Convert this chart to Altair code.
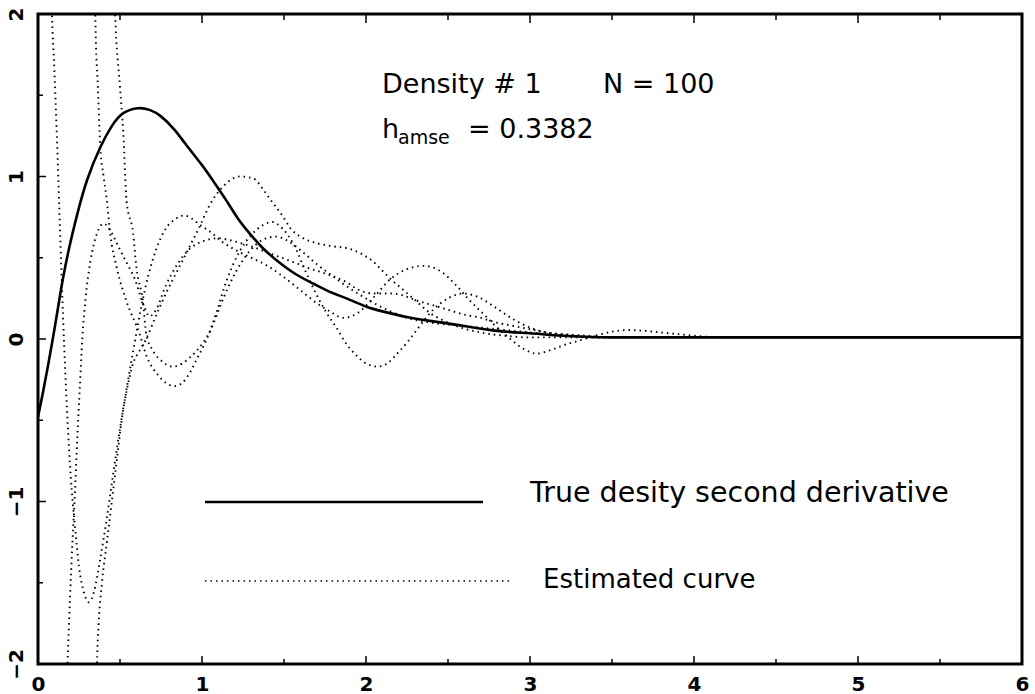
import altair as alt
import pandas as pd

# ---------------- data ----------------
true_x = [0.0, 0.03, 0.06, 0.09, 0.12, 0.15, 0.19, 0.24, 0.30, 0.38, 0.45, 0.52, 0.61,
          0.68, 0.75, 0.83, 0.90, 1.0, 1.07, 1.15, 1.22, 1.29, 1.37, 1.46, 1.57, 1.68,
          1.78, 1.88, 2.0, 2.1, 2.25, 2.4, 2.6, 2.8, 3.0, 3.2, 3.5, 4.0, 5.0, 6.0]
true_y = [-0.48, -0.33, -0.17, 0.0, 0.18, 0.36, 0.56, 0.77, 0.98, 1.18, 1.31, 1.39, 1.42,
          1.41, 1.37, 1.29, 1.20, 1.07, 0.97, 0.85, 0.74, 0.65, 0.56, 0.48, 0.40, 0.34,
          0.29, 0.25, 0.20, 0.17, 0.135, 0.11, 0.08, 0.05, 0.035, 0.02, 0.01, 0.01, 0.01, 0.01]

est1_x = [0.07, 0.085, 0.10, 0.115, 0.13, 0.145, 0.16, 0.18, 0.20, 0.225, 0.25, 0.28, 0.31,
          0.34, 0.38, 0.42, 0.46, 0.50, 0.54, 0.58, 0.62, 0.66, 0.71, 0.78, 0.85, 0.92,
          0.98, 1.05, 1.13, 1.23, 1.31, 1.38, 1.43, 1.49, 1.54, 1.60, 1.70, 1.80, 1.88,
          1.98, 2.04, 2.10, 2.16, 2.23, 2.31, 2.39, 2.48, 2.58, 2.70, 2.85, 3.0, 6.0]
est1_y = [2.6, 2.0, 1.65, 1.25, 0.8, 0.35, -0.05, -0.5, -0.85, -1.15, -1.4, -1.56, -1.62,
          -1.56, -1.35, -1.1, -0.82, -0.55, -0.32, -0.15, -0.07, 0.0, 0.12, 0.28, 0.42, 0.56,
          0.68, 0.83, 0.94, 1.0, 0.99, 0.91, 0.84, 0.76, 0.68, 0.63, 0.59, 0.57, 0.56,
          0.52, 0.48, 0.42, 0.36, 0.30, 0.23, 0.16, 0.11, 0.07, 0.04, 0.02, 0.01, 0.01]

est2_x = [0.17, 0.18, 0.195, 0.21, 0.225, 0.24, 0.255, 0.27, 0.29, 0.32, 0.36, 0.40, 0.44,
          0.49, 0.54, 0.59, 0.64, 0.68, 0.72, 0.78, 0.85, 0.92, 1.0, 1.1, 1.2, 1.3, 1.43,
          1.54, 1.64, 1.76, 1.88, 1.96, 2.05, 2.15, 2.22, 2.30, 2.40, 2.50, 2.60, 2.70,
          2.80, 2.90, 3.00, 3.10, 3.20, 3.35, 3.5, 6.0]
est2_y = [-2.3, -2.0, -1.6, -1.25, -0.95, -0.6, -0.3, 0.0, 0.25, 0.48, 0.65, 0.71, 0.67,
          0.57, 0.47, 0.37, 0.22, 0.14, 0.18, 0.33, 0.46, 0.55, 0.60, 0.62, 0.60, 0.57, 0.52,
          0.48, 0.44, 0.40, 0.35, 0.30, 0.28, 0.28, 0.27, 0.24, 0.21, 0.18, 0.15, 0.13,
          0.10, 0.08, 0.06, 0.04, 0.03, 0.02, 0.01, 0.01]

est3_x = [0.355, 0.36, 0.37, 0.39, 0.42, 0.45, 0.48, 0.51, 0.55, 0.59, 0.63, 0.67, 0.72,
          0.78, 0.84, 0.89, 0.94, 0.99, 1.05, 1.12, 1.2, 1.3, 1.4, 1.5, 1.6, 1.7, 1.78,
          1.86, 1.95, 2.05, 2.15, 2.25, 2.35, 2.45, 2.55, 2.63, 2.72, 2.8, 2.88, 2.96,
          3.04, 3.12, 3.2, 3.3, 3.4, 3.5, 3.6, 3.7, 3.8, 3.9, 4.0, 4.2, 6.0]
est3_y = [-2.3, -2.0, -1.75, -1.5, -1.25, -1.0, -0.75, -0.5, -0.25, -0.02, 0.2, 0.38, 0.55,
          0.68, 0.74, 0.76, 0.74, 0.70, 0.66, 0.60, 0.55, 0.50, 0.45, 0.38, 0.30, 0.22, 0.17,
          0.13, 0.16, 0.26, 0.37, 0.43, 0.45, 0.42, 0.33, 0.24, 0.15, 0.07, 0.0, -0.06,
          -0.09, -0.07, -0.04, -0.01, 0.02, 0.045, 0.055, 0.05, 0.04, 0.03, 0.02, 0.01, 0.01]

est4_x = [0.345, 0.35, 0.365, 0.38, 0.40, 0.42, 0.44, 0.48, 0.54, 0.62, 0.66, 0.73, 0.78,
          0.83, 0.88, 0.93, 0.97, 1.03, 1.09, 1.15, 1.23, 1.30, 1.37, 1.43, 1.49, 1.56,
          1.63, 1.70, 1.76, 1.82, 1.88, 1.94, 2.0, 2.07, 2.13, 2.19, 2.26, 2.32, 2.40,
          2.50, 2.59, 2.68, 2.78, 2.9, 3.0, 3.1, 3.25, 3.4, 6.0]
est4_y = [2.3, 1.96, 1.55, 1.18, 1.0, 0.85, 0.65, 0.44, 0.23, 0.03, -0.10, -0.22, -0.27,
          -0.29, -0.27, -0.20, -0.12, 0.0, 0.17, 0.36, 0.54, 0.64, 0.70, 0.72, 0.68, 0.58,
          0.42, 0.27, 0.16, 0.07, -0.03, -0.10, -0.15, -0.17, -0.15, -0.09, -0.01, 0.07, 0.17,
          0.25, 0.28, 0.26, 0.20, 0.12, 0.07, 0.04, 0.02, 0.01, 0.01]

est5_x = [0.46, 0.47, 0.50, 0.52, 0.54, 0.58, 0.60, 0.64, 0.66, 0.70, 0.76, 0.82, 0.88,
          0.93, 0.97, 1.05, 1.13, 1.21, 1.29, 1.37, 1.45, 1.53, 1.62, 1.70, 1.78, 1.86,
          1.95, 2.05, 2.15, 2.25, 2.4, 2.6, 2.8, 3.0, 3.2, 3.4, 6.0]
est5_y = [2.3, 2.0, 1.55, 1.27, 0.85, 0.65, 0.44, 0.23, 0.03, -0.07, -0.14, -0.17, -0.15,
          -0.11, -0.07, 0.05, 0.25, 0.42, 0.54, 0.61, 0.63, 0.60, 0.53, 0.46, 0.40, 0.34,
          0.28, 0.22, 0.17, 0.13, 0.10, 0.08, 0.06, 0.04, 0.02, 0.01, 0.01]

x_major = [0, 1, 2, 3, 4, 5, 6]
x_minor = [0.5, 1.5, 2.5, 3.5, 4.5, 5.5]
y_major = [-2, -1, 0, 1, 2]
y_minor = [-1.5, -0.5, 0.5, 1.5]

title_line1 = "Density # 1"
title_n = "N = 100"
h_main = "h"
h_sub = "amse"
h_value = "= 0.3382"
legend_true = "True desity second derivative"
legend_est = "Estimated curve"

# ---------------- tables ----------------
true_df = pd.DataFrame({"x": true_x, "y": true_y, "i": range(len(true_x))})
parts = []
for k, (xv, yv) in enumerate([(est1_x, est1_y), (est2_x, est2_y), (est3_x, est3_y),
                              (est4_x, est4_y), (est5_x, est5_y)]):
    parts.append(pd.DataFrame({"x": xv, "y": yv, "i": range(len(xv)), "curve": f"e{k+1}"}))
est_df = pd.concat(parts, ignore_index=True)

W, H = 984, 650
FONT = "DejaVu Sans"
DOT = [1.5, 4.0]
xs = alt.Scale(domain=[0, 6], nice=False, zero=False)
ys = alt.Scale(domain=[-2, 2], nice=False, zero=False)

x_axis = alt.Axis(values=x_major, ticks=False, domain=False, grid=False,
                  labelFont=FONT, labelFontSize=20, labelFontWeight="bold",
                  labelColor="black", labelPadding=10, title=None, format="d",
                  labelOverlap=False, labelFlush=False)
y_axis = alt.Axis(values=y_major, ticks=False, domain=False, grid=False,
                  labelFont=FONT, labelFontSize=20, labelFontWeight="bold",
                  labelColor="black", labelAngle=-90, labelAlign="center",
                  labelBaseline="bottom", labelPadding=12, title=None, format="d",
                  labelOverlap=False, labelFlush=False)

true_line = alt.Chart(true_df).mark_line(
    color="black", strokeWidth=2.6, interpolate="natural", clip=True
).encode(
    x=alt.X("x:Q", scale=xs, axis=x_axis),
    y=alt.Y("y:Q", scale=ys, axis=y_axis),
    order="i:Q",
)

est_lines = alt.Chart(est_df).mark_line(
    color="black", strokeWidth=1.9, strokeDash=DOT, interpolate="monotone", clip=True
).encode(
    x=alt.X("x:Q", scale=xs, axis=x_axis),
    y=alt.Y("y:Q", scale=ys, axis=y_axis),
    detail="curve:N",
    order="i:Q",
)

one = pd.DataFrame({"k": [0]})

def txt(s, px, py, size=26):
    return alt.Chart(one).mark_text(
        align="left", baseline="alphabetic", font=FONT, fontSize=size, color="black"
    ).encode(x=alt.value(px), y=alt.value(py), text=alt.value(s))

texts = [
    txt(title_line1, 344, 79, 27),
    txt(title_n, 565, 79, 27),
    txt(h_main, 344, 124, 27),
    txt(h_sub, 360, 130, 19),
    txt(h_value, 430, 124, 27),
    txt(legend_true, 492, 488, 28.5),
    txt(legend_est, 505, 574, 26),
]

leg_solid = alt.Chart(one).mark_rule(color="black", strokeWidth=2.4).encode(
    x=alt.value(167), x2=alt.value(445), y=alt.value(488))
leg_dot = alt.Chart(one).mark_rule(color="black", strokeWidth=1.6, strokeDash=DOT).encode(
    x=alt.value(167), x2=alt.value(472), y=alt.value(567))

def xticks(vals, length, top=False):
    d = pd.DataFrame({"x": vals})
    y0, y1 = (1, 1 + length) if top else (H, H - length)
    return alt.Chart(d).mark_rule(color="black", strokeWidth=1.5).encode(
        x=alt.X("x:Q", scale=xs, axis=x_axis), y=alt.value(y0), y2=alt.value(y1))

def yticks(vals, length):
    d = pd.DataFrame({"y": vals})
    return alt.Chart(d).mark_rule(color="black", strokeWidth=1.5).encode(
        y=alt.Y("y:Q", scale=ys, axis=y_axis), x=alt.value(0), x2=alt.value(length))

ticks = [xticks(x_major, 8), xticks(x_minor, 5), xticks(x_major, 8, True), xticks(x_minor, 5, True),
         yticks(y_major, 8), yticks(y_minor, 5)]

chart = alt.layer(true_line, est_lines, leg_solid, leg_dot, *ticks, *texts).properties(
    width=W, height=H,
    padding={"left": 38, "top": 14, "right": 13, "bottom": 30},
    autosize=alt.AutoSizeParams(type="none"),
    background="white",
).configure_view(stroke="black", strokeWidth=3)

chart.save("out.html", embed_options={"renderer": "svg", "actions": False})
